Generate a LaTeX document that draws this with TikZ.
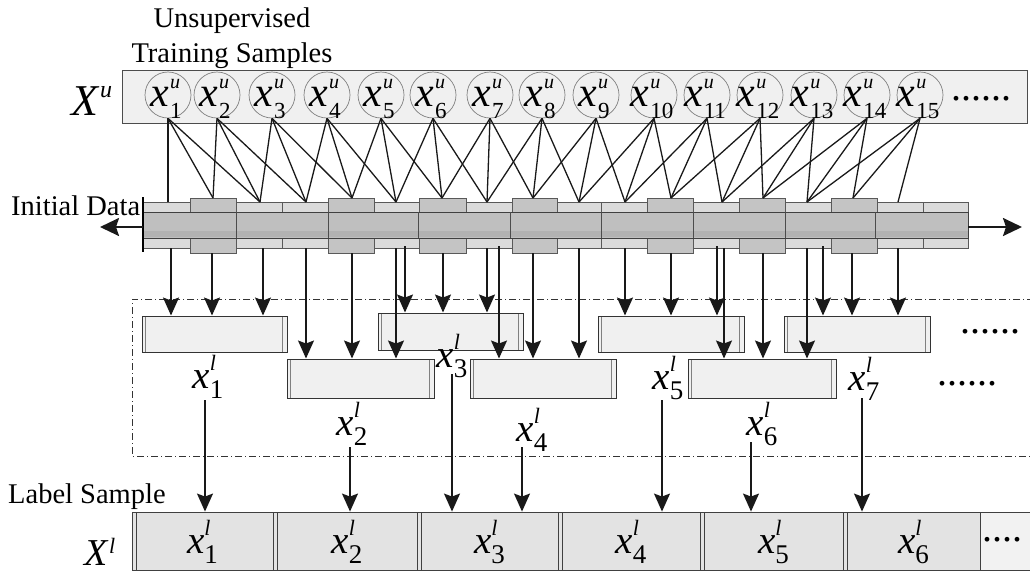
\documentclass[tikz,border=0pt]{standalone}
\usepackage{fontspec}
\setmainfont{Liberation Serif}
\usetikzlibrary{arrows.meta}
\newcommand\xu[1]{{\fontsize{42}{42}\selectfont\textit{x}\kern1pt\rlap{\raisebox{18pt}{\fontsize{20}{20}\selectfont\textit{u}}}\raisebox{-12pt}{\fontsize{23}{23}\selectfont #1}}}
\newcommand\xl[1]{{\fontsize{39}{39}\selectfont\textit{x}\rlap{\raisebox{18pt}{\fontsize{22}{22}\selectfont\textit{l}}}\raisebox{-10pt}{\fontsize{27}{27}\selectfont #1}}}
\newcommand\incirc[1]{\makebox[0pt]{\hspace*{-4pt}\smash{\raisebox{-11pt}{\xu{#1}}}}}
\begin{document}
\begin{tikzpicture}[x=1pt,y=-1pt,
  txt/.style={inner sep=0, font=\fontsize{28.5}{30}\selectfont},
  lbl/.style={inner sep=0, anchor=base},
  dots/.style={inner sep=0, anchor=base, font=\fontsize{40}{40}\selectfont},
  circ/.style={circle, draw=black!50, line width=0.7pt, fill=black!6, minimum size=46pt, inner sep=0},
  conn/.style={line width=1.3pt, draw=black!90},
  arr/.style={line width=1.3pt, draw=black!90, -{Stealth[length=18pt,width=16pt,inset=3pt]}},
  bigarr/.style={line width=2.2pt, draw=black!90, -{Stealth[length=19pt,width=18pt,inset=3pt]}},
  lightseg/.style={fill=black!14, draw=black!65, line width=0.7pt},
  darkseg/.style={fill=black!23, draw=black!65, line width=0.7pt},
  mbox/.style={draw=black!80, line width=1pt, fill=black!6, inner sep=0,
    path picture={\draw[black!50, line width=0.8pt] ([xshift=3.5pt]path picture bounding box.north west) -- ([xshift=3.5pt]path picture bounding box.south west);
                  \draw[black!50, line width=1.3pt] ([xshift=-4.5pt]path picture bounding box.north east) -- ([xshift=-4.5pt]path picture bounding box.south east);}},
  cellbox/.style={draw=black!75, line width=0.9pt, fill=black!11, inner sep=0, minimum height=58pt,
    path picture={\draw[black!75, line width=0.9pt] ([xshift=4pt]path picture bounding box.north west) -- ([xshift=4pt]path picture bounding box.south west);}},
  dashdot/.style={line width=0.6pt, draw=black!80, dash pattern=on 7pt off 3pt on 1pt off 3pt}
]
\useasboundingbox (0,0) rectangle (1030,574);

% ---- titles
\node[txt, anchor=base] (uns) at (232,27) {Unsupervised};
\node[txt, anchor=base] (trs) at (232,62) {Training Samples};
\node[txt, anchor=base west] (ini) at (11,215) {Initial Data};
\node[txt, anchor=base west] (lsam) at (8,503) {Label Sample};

% ---- top bar with circles
\node[draw=black!70, line width=1pt, fill=black!6, minimum width=905pt, minimum height=53pt, inner sep=0] (bar) at (574.5,96.5) {};
\node[lbl] (Xu) at (92,115) {{\fontsize{44}{44}\selectfont\textit{X}\raisebox{18pt}{\fontsize{24}{24}\selectfont\textit{u}}}};
\foreach \i/\x in {1/168,2/217,3/272,4/327,5/381,6/433,7/490,8/542,9/596,10/654,11/707,12/760,13/814,14/867,15/920}{
  \node[circ] (c\i) at (\x,95) {\incirc{\i}};
}
\node[dots] (dtop) at (981,100) {......};

% ---- pipe
\foreach \a/\b in {142/190,190/236,236/282,282/328,328/374,374/419,419/466,466/512,512/557,557/601,601/647,647/693,693/739,739/785,785/831,831/877,877/923,923/968}{
  \draw[lightseg] (\a,202) rectangle (\b,212);
  \draw[lightseg] (\a,238) rectangle (\b,248);
}
\foreach \a/\b in {190/236,328/374,419/466,512/557,647/693,739/785,831/877}{
  \draw[darkseg] (\a,198) rectangle (\b,212);
  \draw[darkseg] (\a,238) rectangle (\b,253);
}
\draw[fill=black!25, draw=black!75, line width=0.8pt] (142,212) rectangle (968,238);
\fill[black!30] (142,231) rectangle (968,237);
\foreach \x in {236,328,418,510,601,693,785,875}{
  \draw[black!70, line width=0.8pt] (\x,212) -- (\x,238);
}
\draw[line width=2pt] (143,197) -- (143,252);
\coordinate (pl) at (143,227);
\coordinate (plend) at (100,227);
\coordinate (pr) at (968,227);
\coordinate (prend) at (1022,227);
\draw[bigarr] (pl) -- (plend);
\draw[bigarr] (pr) -- (prend);

% ---- connections circles -> pipe
\foreach \k/\x/\y in {1/168/202,2/213/198,3/260/202,4/306/202,5/352/198,6/396/202,7/442/198,8/487/202,9/533/198,10/579/202,11/625/202,12/671/198,13/722/202,14/763/198,15/807/202,16/853/198,17/898/202}{
  \coordinate (p\k) at (\x,\y);
}
\foreach \i in {1,...,15}{
  \foreach \j in {0,1,2}{
    \pgfmathtruncatemacro\k{\i+\j}
    \draw[conn] (c\i.south) -- (p\k);
  }
}

% ---- dash-dot frame
\draw[dashdot] (1034,299) -- (132,299) -- (132,456) -- (1034,456);

% ---- middle boxes
\node[mbox, minimum width=145pt, minimum height=36pt] (b1) at (214.5,334) {};
\node[mbox, minimum width=147pt, minimum height=39pt] (b2) at (360.5,378.5) {};
\node[mbox, minimum width=145pt, minimum height=37pt] (b3) at (450.5,331.5) {};
\node[mbox, minimum width=146pt, minimum height=39pt] (b4) at (543,378.5) {};
\node[mbox, minimum width=146pt, minimum height=36pt] (b5) at (671,334) {};
\node[mbox, minimum width=148pt, minimum height=39pt] (b6) at (762,378.5) {};
\node[mbox, minimum width=146pt, minimum height=36pt] (b7) at (857,334) {};
\node[dots] (dup) at (990,333) {......};
\node[dots] (dlo) at (967,385) {......};

% ---- arrows pipe -> boxes
\foreach \x/\y/\b in {171/248/b1,212/253/b1,263/248/b1,306/248/b2,352/253/b2,396/248/b2,405/246/b3,443/253/b3,487/248/b3,499/246/b4,533/253/b4,579/248/b4,625/248/b5,671/253/b5,717/246/b5,724/248/b6,763/253/b6,807/248/b6,823/246/b7,852/253/b7,898/248/b7}{
  \coordinate (q\x) at (\x,\y);
  \draw[arr] (q\x) -- (q\x |- \b.north);
}

% ---- middle labels
\foreach \i/\x/\y in {1/208/388,2/352/435,3/452/367,4/532/441,5/668/389,6/762/435,7/864/390}{
  \node[lbl] (m\i) at (\x,\y) {\xl{\i}};
}

% ---- bottom row
\node[lbl] (Xl) at (100,565) {{\fontsize{38}{38}\selectfont\textit{X}\raisebox{12pt}{\fontsize{22}{22}\selectfont\textit{l}}}};
\node[cellbox, minimum width=141pt] (r1) at (202.5,541) {};
\node[cellbox, minimum width=144pt] (r2) at (345,541) {};
\node[cellbox, minimum width=141pt] (r3) at (487.5,541) {};
\node[cellbox, minimum width=142pt] (r4) at (629,541) {};
\node[cellbox, minimum width=143pt] (r5) at (771.5,541) {};
\node[cellbox, minimum width=137pt] (r6) at (911.5,541) {};
\node[draw=black!75, line width=0.9pt, fill=black!5, inner sep=0, minimum height=58pt, minimum width=56pt] (r7) at (1008,541) {};
\foreach \i/\x in {1/202.5,2/347,3/489.5,4/631,5/773.5,6/913.5}{
  \node[lbl] (n\i) at (\x,553) {\xl{\i}};
}
\node[dots] (dbot) at (1002,541) {....};

% ---- arrows middle labels -> bottom row
\foreach \i/\x/\y/\r in {1/205/400/r1,2/350/447/r2,3/452/374/r3,4/522/447/r3,5/662/400/r4,6/751/442/r5,7/862/398/r6}{
  \coordinate (s\i) at (\x,\y);
  \draw[arr] (s\i) -- (s\i |- \r.north);
}
\end{tikzpicture}
\end{document}
